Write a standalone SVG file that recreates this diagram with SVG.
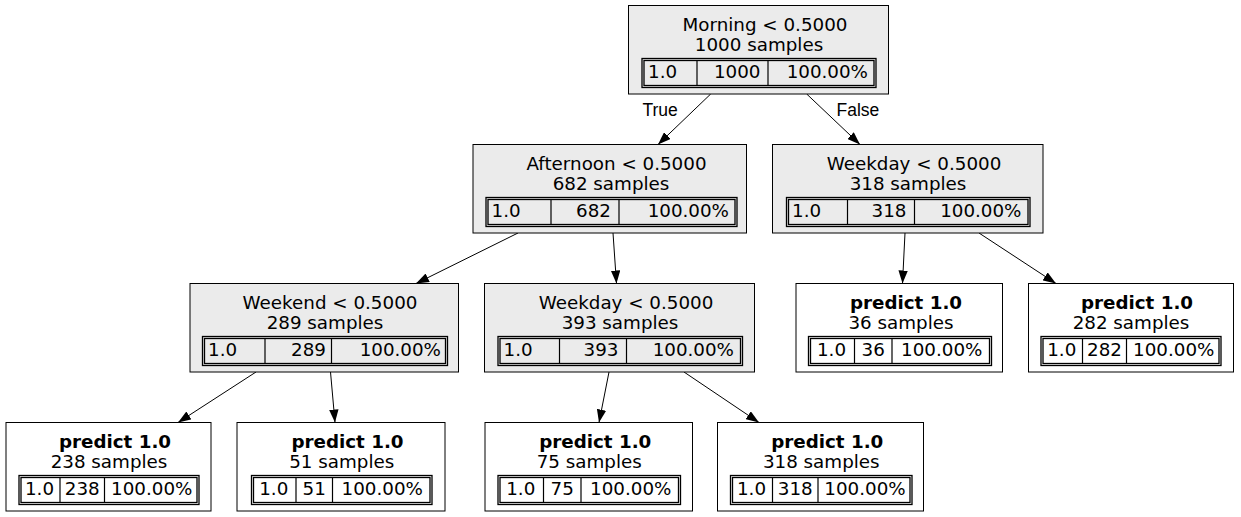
<svg xmlns="http://www.w3.org/2000/svg" width="1241" height="517" viewBox="0 0 1241 517">
<defs>
<marker id="arr" markerWidth="13" markerHeight="9.4" refX="13" refY="4.7" orient="auto" markerUnits="userSpaceOnUse" viewBox="0 0 13 9.4">
<path d="M0,0 L13,4.7 L0,9.4 z" fill="#000"/>
</marker>
</defs>
<style>
.box{stroke:#000;stroke-width:1}
.dec{fill:#ebebeb}
.leaf{fill:#fff}
.tb{fill:none;stroke:#000;stroke-width:1.3}
.dv{stroke:#000;stroke-width:1.2}
text{font-family:"DejaVu Sans",Verdana,sans-serif;font-size:18.3px;fill:#000}
.m{text-anchor:middle}
.e{text-anchor:end}
.b{font-weight:bold}
.el{font-family:"Liberation Sans",Arial,sans-serif;font-size:17.5px}
.edge{stroke:#000;stroke-width:1;fill:none;marker-end:url(#arr)}
</style>
<rect width="1241" height="517" fill="#fff"/>

<g id="edges">
<line class="edge" x1="710.7" y1="94" x2="658" y2="144.5"/>
<line class="edge" x1="806.7" y1="94" x2="860" y2="144.5"/>
<line class="edge" x1="518" y1="233" x2="416" y2="283.5"/>
<line class="edge" x1="613" y1="233" x2="616.5" y2="283.5"/>
<line class="edge" x1="905" y1="233" x2="902.5" y2="283.5"/>
<line class="edge" x1="979" y1="233" x2="1056" y2="283.5"/>
<line class="edge" x1="256" y1="372" x2="178" y2="422.5"/>
<line class="edge" x1="330.5" y1="372" x2="335" y2="422.5"/>
<line class="edge" x1="609" y1="372" x2="599" y2="422.5"/>
<line class="edge" x1="684" y1="372" x2="759" y2="422.5"/>
<text class="el" x="642.5" y="116">True</text>
<text class="el" x="836.5" y="116">False</text>
</g>

<g id="n0">
<rect class="box dec" x="628.5" y="5.5" width="260" height="88.5"/>
<text class="m" x="765" y="30.5">Morning &lt; 0.5000</text>
<text class="m" x="759" y="50.5">1000 samples</text>
<rect class="tb" x="642" y="58.5" width="234" height="29"/>
<rect class="tb" x="644" y="60.5" width="230" height="25"/>
<line class="dv" x1="697" y1="60.5" x2="697" y2="85.5"/>
<line class="dv" x1="768" y1="60.5" x2="768" y2="85.5"/>
<text x="648" y="78">1.0</text>
<text class="e" x="760.5" y="78">1000</text>
<text class="e" x="868" y="78">100.00%</text>
</g>

<g id="n1">
<rect class="box dec" x="473" y="144.5" width="273.5" height="88.5"/>
<text class="m" x="616.5" y="169.5">Afternoon &lt; 0.5000</text>
<text class="m" x="611" y="189.5">682 samples</text>
<rect class="tb" x="486" y="197.5" width="251" height="29"/>
<rect class="tb" x="488" y="199.5" width="247" height="25"/>
<line class="dv" x1="551" y1="199.5" x2="551" y2="224.5"/>
<line class="dv" x1="619" y1="199.5" x2="619" y2="224.5"/>
<text x="491.5" y="217">1.0</text>
<text class="e" x="611" y="217">682</text>
<text class="e" x="729" y="217">100.00%</text>
</g>

<g id="n2">
<rect class="box dec" x="772.5" y="144.5" width="270.5" height="88.5"/>
<text class="m" x="914" y="169.5">Weekday &lt; 0.5000</text>
<text class="m" x="908" y="189.5">318 samples</text>
<rect class="tb" x="786.5" y="197.5" width="243.5" height="29"/>
<rect class="tb" x="788.5" y="199.5" width="239.5" height="25"/>
<line class="dv" x1="847.5" y1="199.5" x2="847.5" y2="224.5"/>
<line class="dv" x1="914.5" y1="199.5" x2="914.5" y2="224.5"/>
<text x="792" y="217">1.0</text>
<text class="e" x="906.5" y="217">318</text>
<text class="e" x="1021.5" y="217">100.00%</text>
</g>

<g id="n3">
<rect class="box dec" x="190" y="283.5" width="268.5" height="88.5"/>
<text class="m" x="330" y="308.5">Weekend &lt; 0.5000</text>
<text class="m" x="325" y="328.5">289 samples</text>
<rect class="tb" x="202.5" y="336.5" width="245" height="29"/>
<rect class="tb" x="204.5" y="338.5" width="241" height="25"/>
<line class="dv" x1="265" y1="338.5" x2="265" y2="363.5"/>
<line class="dv" x1="331.5" y1="338.5" x2="331.5" y2="363.5"/>
<text x="208" y="356">1.0</text>
<text class="e" x="326" y="356">289</text>
<text class="e" x="441" y="356">100.00%</text>
</g>

<g id="n4">
<rect class="box dec" x="484.5" y="283.5" width="270" height="88.5"/>
<text class="m" x="626" y="308.5">Weekday &lt; 0.5000</text>
<text class="m" x="620" y="328.5">393 samples</text>
<rect class="tb" x="498" y="336.5" width="244.5" height="29"/>
<rect class="tb" x="500" y="338.5" width="240.5" height="25"/>
<line class="dv" x1="559.5" y1="338.5" x2="559.5" y2="363.5"/>
<line class="dv" x1="626.5" y1="338.5" x2="626.5" y2="363.5"/>
<text x="503.5" y="356">1.0</text>
<text class="e" x="618.5" y="356">393</text>
<text class="e" x="734" y="356">100.00%</text>
</g>

<g id="n5">
<rect class="box leaf" x="796" y="283.5" width="206.5" height="88.5"/>
<text class="m b" x="906" y="308.5">predict 1.0</text>
<text class="m" x="901" y="328.5">36 samples</text>
<rect class="tb" x="808.5" y="336.5" width="183" height="29"/>
<rect class="tb" x="810.5" y="338.5" width="179" height="25"/>
<line class="dv" x1="854.5" y1="338.5" x2="854.5" y2="363.5"/>
<line class="dv" x1="892" y1="338.5" x2="892" y2="363.5"/>
<text class="m" x="831.5" y="356">1.0</text>
<text class="m" x="873.25" y="356">36</text>
<text class="m" x="941.75" y="356">100.00%</text>
</g>

<g id="n6">
<rect class="box leaf" x="1028.5" y="283.5" width="205" height="88.5"/>
<text class="m b" x="1137" y="308.5">predict 1.0</text>
<text class="m" x="1131" y="328.5">282 samples</text>
<rect class="tb" x="1041" y="336.5" width="180" height="29"/>
<rect class="tb" x="1043" y="338.5" width="176" height="25"/>
<line class="dv" x1="1082.5" y1="338.5" x2="1082.5" y2="363.5"/>
<line class="dv" x1="1126.5" y1="338.5" x2="1126.5" y2="363.5"/>
<text class="m" x="1061.75" y="356">1.0</text>
<text class="m" x="1104.5" y="356">282</text>
<text class="m" x="1173.75" y="356">100.00%</text>
</g>

<g id="n7">
<rect class="box leaf" x="6" y="422.5" width="205" height="88.5"/>
<text class="m b" x="115" y="447.5">predict 1.0</text>
<text class="m" x="109" y="467.5">238 samples</text>
<rect class="tb" x="19" y="475.5" width="180" height="29"/>
<rect class="tb" x="21" y="477.5" width="176" height="25"/>
<line class="dv" x1="60" y1="477.5" x2="60" y2="502.5"/>
<line class="dv" x1="104.5" y1="477.5" x2="104.5" y2="502.5"/>
<text class="m" x="39.5" y="495">1.0</text>
<text class="m" x="82.25" y="495">238</text>
<text class="m" x="151.75" y="495">100.00%</text>
</g>

<g id="n8">
<rect class="box leaf" x="237" y="422.5" width="208" height="88.5"/>
<text class="m b" x="347.5" y="447.5">predict 1.0</text>
<text class="m" x="341.75" y="467.5">51 samples</text>
<rect class="tb" x="251.5" y="475.5" width="180.5" height="29"/>
<rect class="tb" x="253.5" y="477.5" width="176.5" height="25"/>
<line class="dv" x1="296" y1="477.5" x2="296" y2="502.5"/>
<line class="dv" x1="332.5" y1="477.5" x2="332.5" y2="502.5"/>
<text class="m" x="273.75" y="495">1.0</text>
<text class="m" x="314.25" y="495">51</text>
<text class="m" x="382.25" y="495">100.00%</text>
</g>

<g id="n9">
<rect class="box leaf" x="485" y="422.5" width="207.5" height="88.5"/>
<text class="m b" x="595.25" y="447.5">predict 1.0</text>
<text class="m" x="589.25" y="467.5">75 samples</text>
<rect class="tb" x="498" y="475.5" width="182.5" height="29"/>
<rect class="tb" x="500" y="477.5" width="178.5" height="25"/>
<line class="dv" x1="543.5" y1="477.5" x2="543.5" y2="502.5"/>
<line class="dv" x1="581" y1="477.5" x2="581" y2="502.5"/>
<text class="m" x="520.75" y="495">1.0</text>
<text class="m" x="562.25" y="495">75</text>
<text class="m" x="630.75" y="495">100.00%</text>
</g>

<g id="n10">
<rect class="box leaf" x="717.5" y="422.5" width="206" height="88.5"/>
<text class="m b" x="827.25" y="447.5">predict 1.0</text>
<text class="m" x="821.25" y="467.5">318 samples</text>
<rect class="tb" x="730.5" y="475.5" width="181.5" height="29"/>
<rect class="tb" x="732.5" y="477.5" width="177.5" height="25"/>
<line class="dv" x1="772.5" y1="477.5" x2="772.5" y2="502.5"/>
<line class="dv" x1="818" y1="477.5" x2="818" y2="502.5"/>
<text class="m" x="751.5" y="495">1.0</text>
<text class="m" x="795.25" y="495">318</text>
<text class="m" x="865" y="495">100.00%</text>
</g>
</svg>
